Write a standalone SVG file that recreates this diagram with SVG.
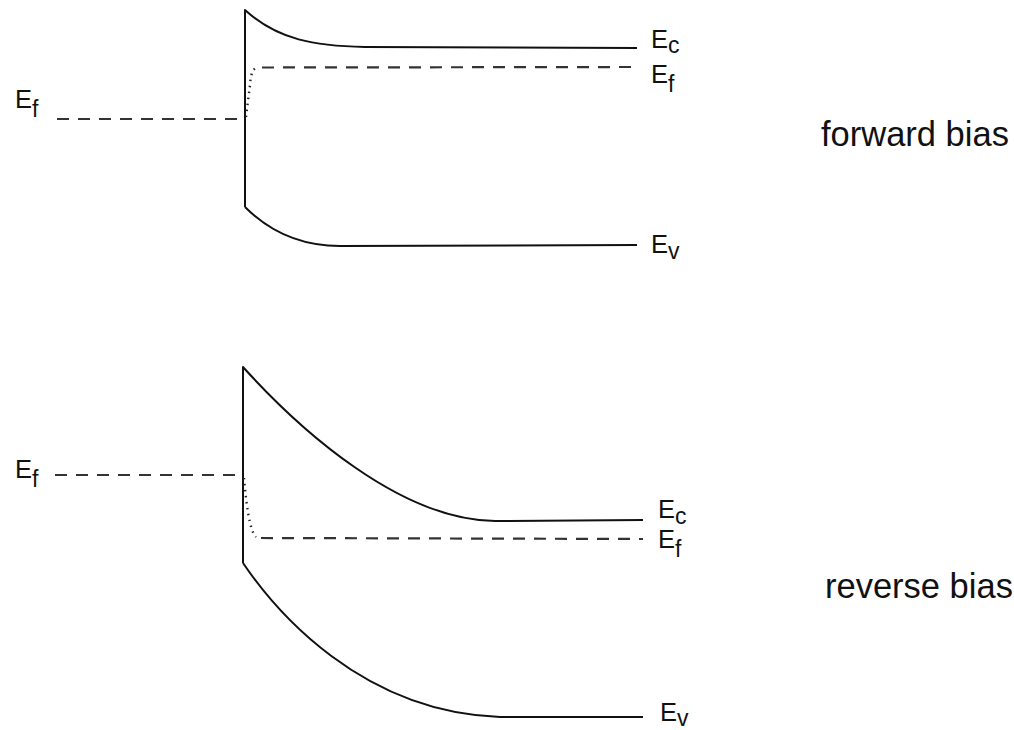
<svg xmlns="http://www.w3.org/2000/svg" width="1014" height="730" viewBox="0 0 1014 730">
<style>
.band{fill:none;stroke:#111;stroke-width:2;stroke-linejoin:round}
.ef{fill:none;stroke:#333;stroke-width:2.2;stroke-dasharray:12 9}
.dot{fill:none;stroke:#222;stroke-width:2.4;stroke-dasharray:1.5 4.5}
.lbl{font-family:"Liberation Sans",Arial,sans-serif;font-size:25.5px;fill:#111}
.sub{font-size:23px}
.cap{font-family:"Liberation Sans",Arial,sans-serif;font-size:34.5px;fill:#111}
</style>
<rect width="1014" height="730" fill="#fff"/>
<g id="connectors">
<!-- forward bias -->
<path class="band" d="M245,207 L245,10 C278,40 315,46 365,47 L637,48"/>
<path class="band" d="M245,207 C270,232 300,246 340,246 L637,245"/>
<path class="ef" d="M57,119 L245,119"/>
<path class="dot" d="M246,117 L250,85 C251,72 253,68 259,67.5"/>
<path class="ef" d="M262,67.5 L637,67"/>
<!-- reverse bias -->
<path class="band" d="M243,563 L243,367 C300,430 400,520 495,521 L643,520"/>
<path class="band" d="M243,563 C275,610 360,712 500,717 L643,717"/>
<path class="ef" d="M55,475 L243,475"/>
<path class="dot" d="M244,478 C246,500 249,530 256,537"/>
<path class="ef" d="M261,538 L643,539"/>
</g>
<g id="label-fb-ef-left"><text class="lbl" x="15" y="108">E<tspan class="sub" dy="9">f</tspan></text></g>
<g id="label-fb-ec"><text class="lbl" x="651" y="48">E<tspan class="sub" dy="5">c</tspan></text></g>
<g id="label-fb-ef"><text class="lbl" x="651" y="83">E<tspan class="sub" dy="9">f</tspan></text></g>
<g id="label-fb-ev"><text class="lbl" x="651" y="253">E<tspan class="sub" dy="6">v</tspan></text></g>
<g id="label-forward"><text class="cap" x="821" y="146">forward bias</text></g>
<g id="label-rb-ef-left"><text class="lbl" x="15" y="478">E<tspan class="sub" dy="9">f</tspan></text></g>
<g id="label-rb-ec"><text class="lbl" x="658" y="518">E<tspan class="sub" dy="6">c</tspan></text></g>
<g id="label-rb-ef"><text class="lbl" x="658" y="548">E<tspan class="sub" dy="9">f</tspan></text></g>
<g id="label-rb-ev"><text class="lbl" x="660" y="721">E<tspan class="sub" dy="5">v</tspan></text></g>
<g id="label-reverse"><text class="cap" x="825" y="598">reverse bias</text></g>
</svg>
